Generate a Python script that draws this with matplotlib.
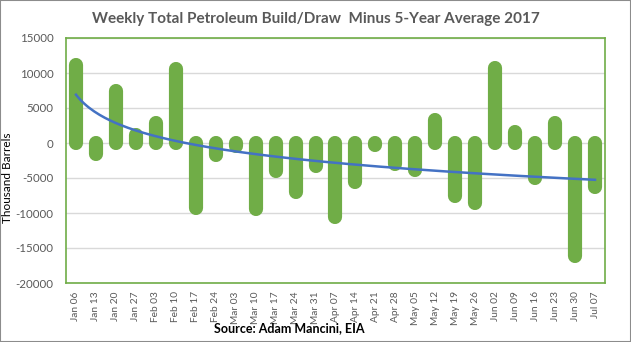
import numpy as np
import matplotlib.pyplot as plt

# weekly build/draw minus 5-year average, thousand barrels
weeks = ["Jan 06", "Jan 13", "Jan 20", "Jan 27", "Feb 03", "Feb 10", "Feb 17",
         "Feb 24", "Mar 03", "Mar 10", "Mar 17", "Mar 24", "Mar 31", "Apr 07",
         "Apr 14", "Apr 21", "Apr 28", "May 05", "May 12", "May 19", "May 26",
         "Jun 02", "Jun 09", "Jun 16", "Jun 23", "Jun 30", "Jul 07"]
values = [11200, -1600, 7400, 1200, 2900, 10600, -9300,
          -1700, -400, -9400, -4000, -7000, -3300, -10500,
          -5500, -300, -3000, -3900, 3300, -7500, -8600,
          10700, 1600, -5000, 2800, -16200, -6300]
yticks = [15000, 10000, 5000, 0, -5000, -10000, -15000, -20000]

green = "#70AD47"
blue = "#4472C4"
grey = "#595959"

plt.rcParams['font.family'] = ['Lato', 'DejaVu Sans']

fig = plt.figure(figsize=(6.31, 3.42), dpi=100)
ax = fig.add_axes([66 / 631, 1 - 283 / 342, 539 / 631, 245 / 342])

x = np.arange(len(weeks))
ax.vlines(x, 0, values, colors=green, linewidth=10.2, capstyle='round', zorder=3)

# logarithmic trendline fitted on the weekly values
n = x + 1
a, b = np.polyfit(np.log(n), values, 1)
xs = np.linspace(1, len(weeks), 200)
ax.plot(xs - 1, a * np.log(xs) + b, color=blue, lw=1.8, zorder=4)

ax.set_xlim(-0.5, len(weeks) - 0.5)
ax.set_ylim(-20000, 15000)
ax.set_yticks(yticks)
ax.set_yticklabels([str(t) for t in yticks], fontsize=8.3, color=grey)
ax.set_xticks(x)
ax.set_xticklabels(weeks, rotation=90, fontsize=7.3, color=grey)
ax.tick_params(length=0)
ax.tick_params(axis='y', pad=9)
ax.tick_params(axis='x', pad=6)
ax.grid(axis='y', color="#D9D9D9", lw=1, zorder=0)
ax.set_axisbelow(True)
for s in ax.spines.values():
    s.set_color(green)
    s.set_linewidth(1.2)

ax.set_ylabel("Thousand Barrels", fontsize=8.5, color="black")
ax.yaxis.set_label_coords(-0.098, 0.43)

fig.text(0.5, 0.945, "Weekly Total Petroleum Build/Draw  Minus 5-Year Average 2017",
         ha='center', va='center', fontsize=11, fontweight='bold', color=grey)
fig.text(0.458, 0.022, "Source: Adam Mancini, EIA", ha='center', va='bottom',
         fontsize=9, fontweight='bold', color="black")

# outer border
fig.patches.append(plt.Rectangle((0, 0), 1, 1, transform=fig.transFigure,
                                 fill=False, edgecolor="#8C8C8C", lw=1.5))

fig.savefig("out.png", dpi=100)
